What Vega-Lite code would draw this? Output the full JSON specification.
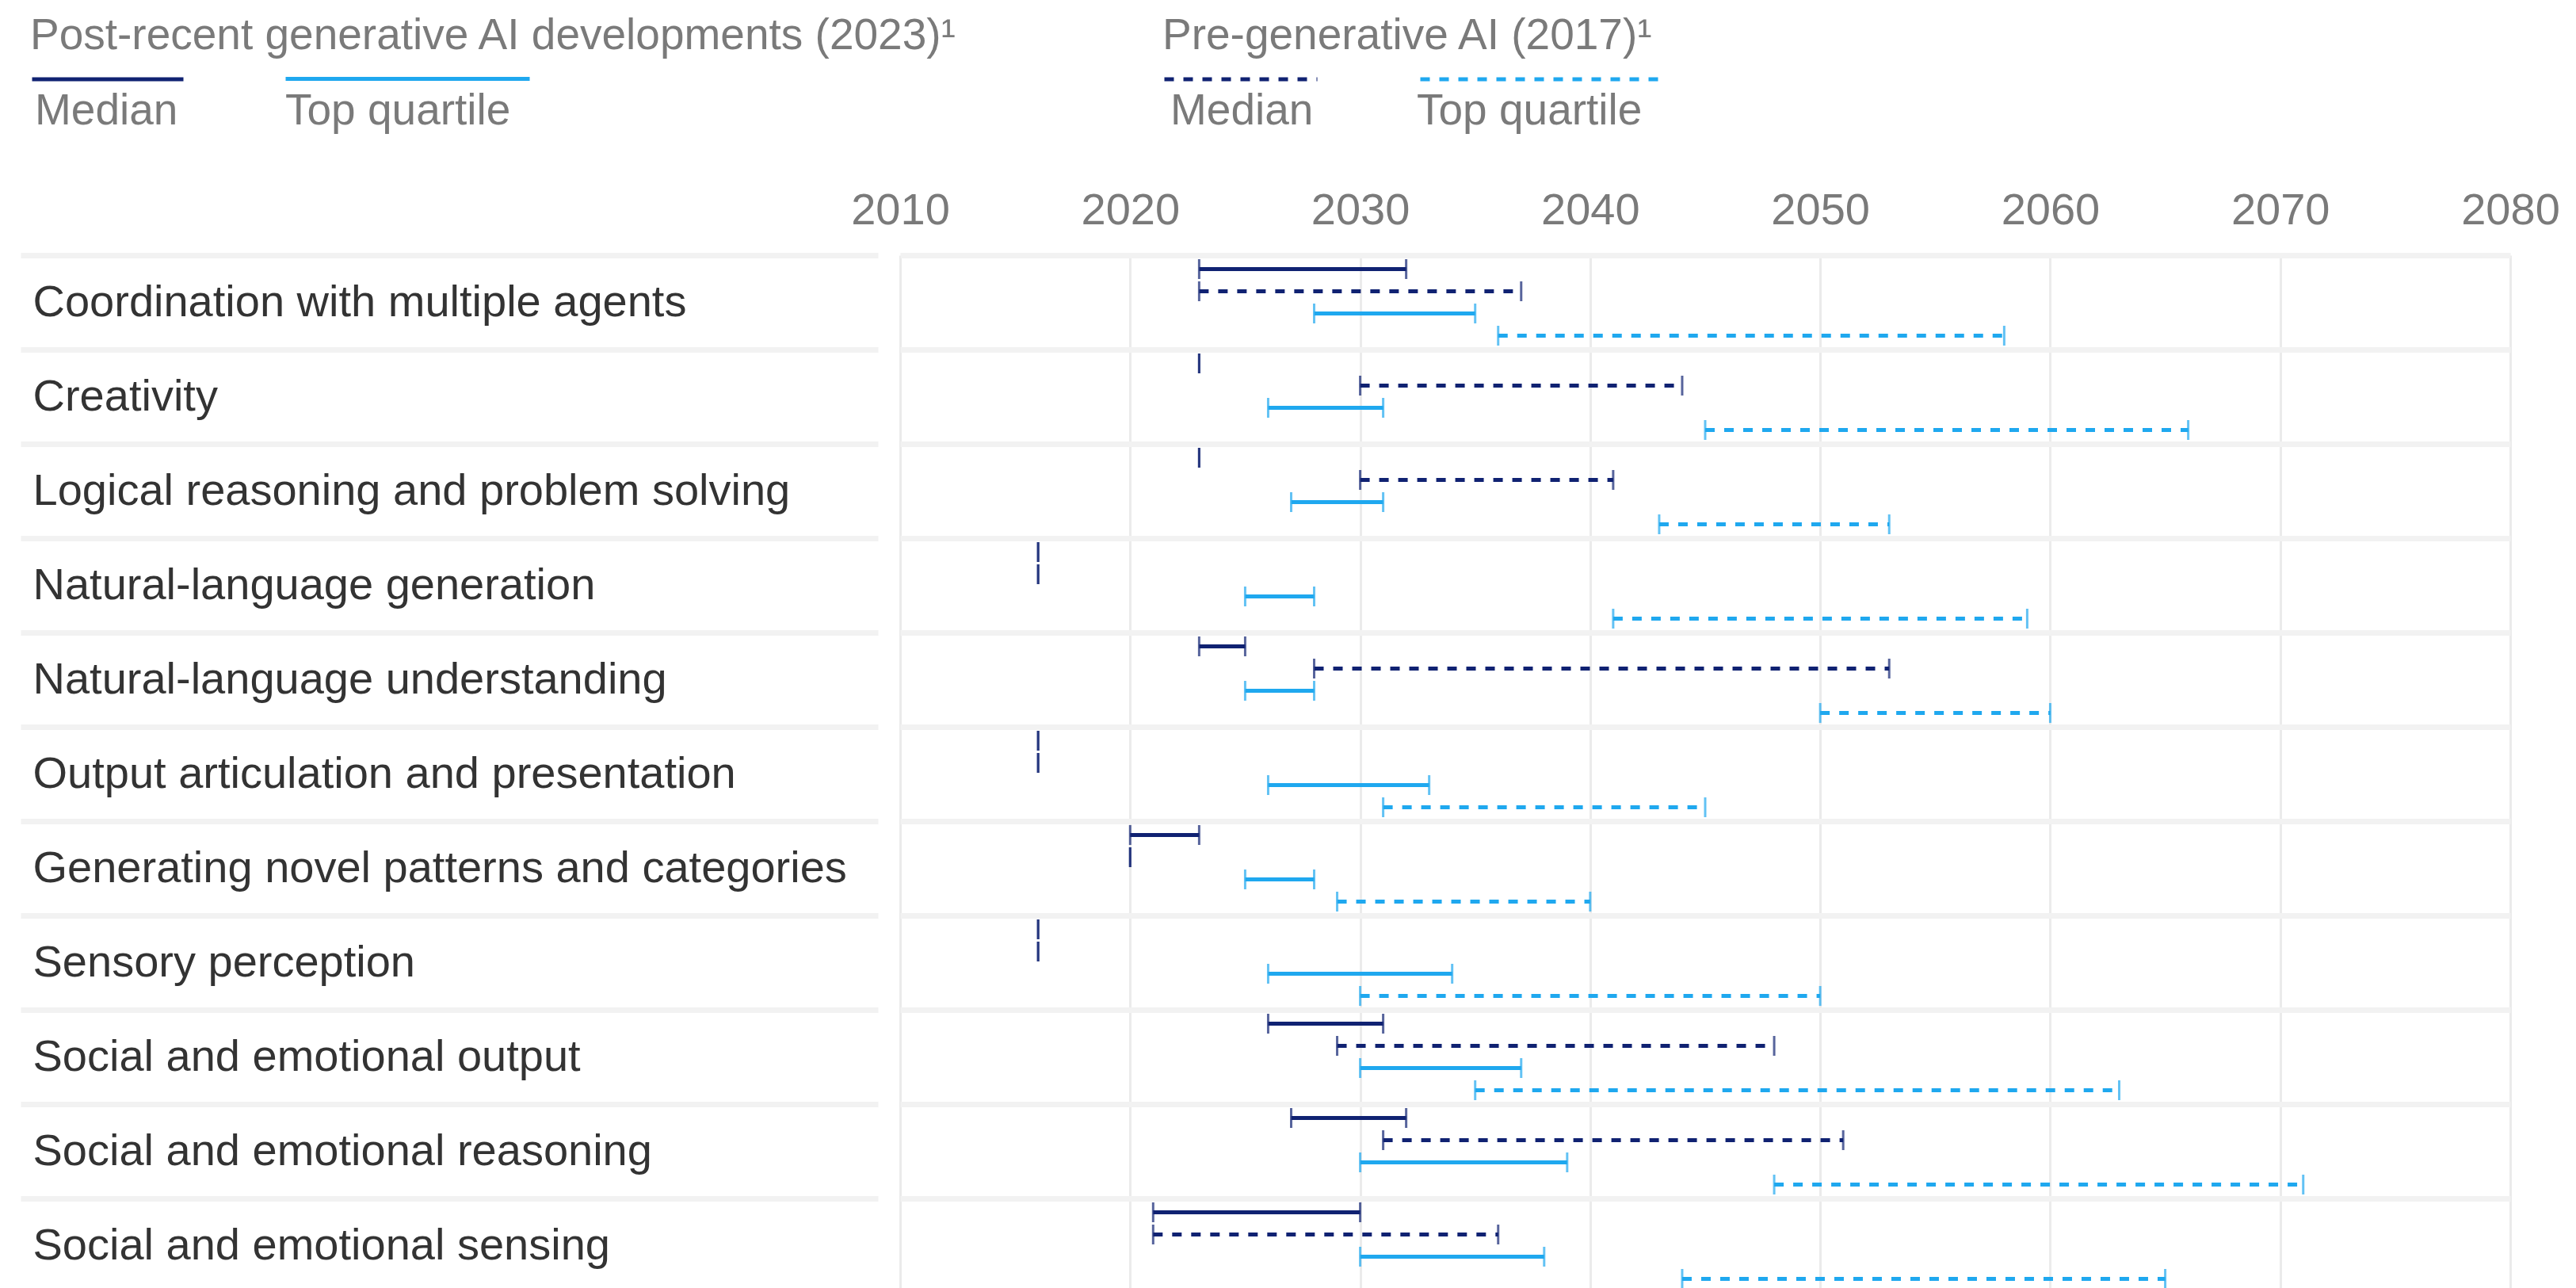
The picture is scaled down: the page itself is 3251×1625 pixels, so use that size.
{
  "$schema": "https://vega.github.io/schema/vega-lite/v6.json",
  "width": 2032,
  "height": 1328,
  "autosize": {"type": "none"},
  "padding": {"left": 1136, "top": 297, "right": 83, "bottom": 0},
  "background": "white",
  "config": {"view": {"stroke": null}, "font": "Liberation Sans"},
  "data": {"values": [
    {"skill": "Coordination with multiple agents", "series": "Median 2023", "stat": "Median", "start": 2023, "end": 2032},
    {"skill": "Coordination with multiple agents", "series": "Median 2017", "stat": "Median", "start": 2023, "end": 2037},
    {"skill": "Coordination with multiple agents", "series": "Top quartile 2023", "stat": "Top quartile", "start": 2028, "end": 2035},
    {"skill": "Coordination with multiple agents", "series": "Top quartile 2017", "stat": "Top quartile", "start": 2036, "end": 2058},
    {"skill": "Creativity", "series": "Median 2023", "stat": "Median", "start": 2023, "end": 2023},
    {"skill": "Creativity", "series": "Median 2017", "stat": "Median", "start": 2030, "end": 2044},
    {"skill": "Creativity", "series": "Top quartile 2023", "stat": "Top quartile", "start": 2026, "end": 2031},
    {"skill": "Creativity", "series": "Top quartile 2017", "stat": "Top quartile", "start": 2045, "end": 2066},
    {"skill": "Logical reasoning and problem solving", "series": "Median 2023", "stat": "Median", "start": 2023, "end": 2023},
    {"skill": "Logical reasoning and problem solving", "series": "Median 2017", "stat": "Median", "start": 2030, "end": 2041},
    {"skill": "Logical reasoning and problem solving", "series": "Top quartile 2023", "stat": "Top quartile", "start": 2027, "end": 2031},
    {"skill": "Logical reasoning and problem solving", "series": "Top quartile 2017", "stat": "Top quartile", "start": 2043, "end": 2053},
    {"skill": "Natural-language generation", "series": "Median 2023", "stat": "Median", "start": 2016, "end": 2016},
    {"skill": "Natural-language generation", "series": "Median 2017", "stat": "Median", "start": 2016, "end": 2016},
    {"skill": "Natural-language generation", "series": "Top quartile 2023", "stat": "Top quartile", "start": 2025, "end": 2028},
    {"skill": "Natural-language generation", "series": "Top quartile 2017", "stat": "Top quartile", "start": 2041, "end": 2059},
    {"skill": "Natural-language understanding", "series": "Median 2023", "stat": "Median", "start": 2023, "end": 2025},
    {"skill": "Natural-language understanding", "series": "Median 2017", "stat": "Median", "start": 2028, "end": 2053},
    {"skill": "Natural-language understanding", "series": "Top quartile 2023", "stat": "Top quartile", "start": 2025, "end": 2028},
    {"skill": "Natural-language understanding", "series": "Top quartile 2017", "stat": "Top quartile", "start": 2050, "end": 2060},
    {"skill": "Output articulation and presentation", "series": "Median 2023", "stat": "Median", "start": 2016, "end": 2016},
    {"skill": "Output articulation and presentation", "series": "Median 2017", "stat": "Median", "start": 2016, "end": 2016},
    {"skill": "Output articulation and presentation", "series": "Top quartile 2023", "stat": "Top quartile", "start": 2026, "end": 2033},
    {"skill": "Output articulation and presentation", "series": "Top quartile 2017", "stat": "Top quartile", "start": 2031, "end": 2045},
    {"skill": "Generating novel patterns and categories", "series": "Median 2023", "stat": "Median", "start": 2020, "end": 2023},
    {"skill": "Generating novel patterns and categories", "series": "Median 2017", "stat": "Median", "start": 2020, "end": 2020},
    {"skill": "Generating novel patterns and categories", "series": "Top quartile 2023", "stat": "Top quartile", "start": 2025, "end": 2028},
    {"skill": "Generating novel patterns and categories", "series": "Top quartile 2017", "stat": "Top quartile", "start": 2029, "end": 2040},
    {"skill": "Sensory perception", "series": "Median 2023", "stat": "Median", "start": 2016, "end": 2016},
    {"skill": "Sensory perception", "series": "Median 2017", "stat": "Median", "start": 2016, "end": 2016},
    {"skill": "Sensory perception", "series": "Top quartile 2023", "stat": "Top quartile", "start": 2026, "end": 2034},
    {"skill": "Sensory perception", "series": "Top quartile 2017", "stat": "Top quartile", "start": 2030, "end": 2050},
    {"skill": "Social and emotional output", "series": "Median 2023", "stat": "Median", "start": 2026, "end": 2031},
    {"skill": "Social and emotional output", "series": "Median 2017", "stat": "Median", "start": 2029, "end": 2048},
    {"skill": "Social and emotional output", "series": "Top quartile 2023", "stat": "Top quartile", "start": 2030, "end": 2037},
    {"skill": "Social and emotional output", "series": "Top quartile 2017", "stat": "Top quartile", "start": 2035, "end": 2063},
    {"skill": "Social and emotional reasoning", "series": "Median 2023", "stat": "Median", "start": 2027, "end": 2032},
    {"skill": "Social and emotional reasoning", "series": "Median 2017", "stat": "Median", "start": 2031, "end": 2051},
    {"skill": "Social and emotional reasoning", "series": "Top quartile 2023", "stat": "Top quartile", "start": 2030, "end": 2039},
    {"skill": "Social and emotional reasoning", "series": "Top quartile 2017", "stat": "Top quartile", "start": 2048, "end": 2071},
    {"skill": "Social and emotional sensing", "series": "Median 2023", "stat": "Median", "start": 2021, "end": 2030},
    {"skill": "Social and emotional sensing", "series": "Median 2017", "stat": "Median", "start": 2021, "end": 2036},
    {"skill": "Social and emotional sensing", "series": "Top quartile 2023", "stat": "Top quartile", "start": 2030, "end": 2038},
    {"skill": "Social and emotional sensing", "series": "Top quartile 2017", "stat": "Top quartile", "start": 2044, "end": 2065}
  ]},
  "encoding": {
    "y": {
      "field": "skill", "type": "nominal",
      "sort": ["Coordination with multiple agents", "Creativity", "Logical reasoning and problem solving", "Natural-language generation", "Natural-language understanding", "Output articulation and presentation", "Generating novel patterns and categories", "Sensory perception", "Social and emotional output", "Social and emotional reasoning", "Social and emotional sensing"],
      "scale": {"range": [25, 1334], "paddingInner": 0, "paddingOuter": 0},
      "axis": {
        "orient": "left", "title": null, "bandPosition": 0, "domain": false,
        "ticks": true, "tickSize": 1082, "tickWidth": 7, "tickColor": "#f2f2f2", "offset": 28,
        "grid": true, "gridColor": "#f2f2f2", "gridWidth": 7,
        "labelAlign": "left", "labelBaseline": "middle", "labelOffset": 0, "labelPadding": -15,
        "labelLimit": 1200, "labelFontSize": 56, "labelColor": "#333333", "labelFont": "Liberation Sans"
      }
    },
    "yOffset": {
      "field": "series", "type": "nominal",
      "sort": ["Median 2023", "Median 2017", "Top quartile 2023", "Top quartile 2017"],
      "scale": {"paddingInner": 0, "paddingOuter": 0.125}
    }
  },
  "layer": [
    {
      "transform": [{"filter": "datum.series === 'Median 2023'"}],
      "mark": {"type": "rule", "strokeWidth": 5, "strokeCap": "butt"},
      "encoding": {
        "x": {"field": "start", "type": "quantitative",
          "scale": {"domain": [2010, 2080], "nice": false, "zero": false},
          "axis": {"orient": "top", "title": null, "values": [2010, 2020, 2030, 2040, 2050, 2060, 2070, 2080], "format": "d",
            "labelFontSize": 56, "labelColor": "#7a7a7a", "labelFont": "Liberation Sans", "labelFlush": false,
            "domain": false, "ticks": false, "tickSize": 0, "labelPadding": 3,
            "grid": true, "gridColor": "#ebebeb", "gridWidth": 3}},
        "x2": {"field": "end"},
        "color": {"field": "stat", "type": "nominal",
          "scale": {"domain": ["Median"], "range": ["#102272"]},
          "legend": {"title": "Post-recent generative AI developments (2023)¹", "orient": "none", "legendX": -1098, "legendY": -278, "padding": 0,
            "titleFontSize": 55, "titleFont": "Liberation Sans", "titleFontWeight": "normal", "titleColor": "#7a7a7a", "titleLimit": 3000,
            "titlePadding": -72, "titleBaseline": "top", "titleAnchor": "start",
            "symbolType": "stroke", "symbolSize": 36481, "symbolStrokeWidth": 5,
            "labelFontSize": 55, "labelFont": "Liberation Sans", "labelColor": "#7a7a7a", "labelOffset": -190,
            "labelBaseline": "alphabetic", "labelExpr": "['', datum.label]", "labelLimit": 1000}}
      }
    },
    {
      "transform": [{"filter": "datum.series === 'Median 2017'"}],
      "mark": {"type": "rule", "strokeWidth": 5, "strokeCap": "butt", "strokeDash": [12, 12]},
      "encoding": {
        "x": {"field": "start", "type": "quantitative", "scale": {"domain": [2010, 2080], "nice": false, "zero": false}},
        "x2": {"field": "end"},
        "color": {"field": "stat", "type": "nominal",
          "scale": {"domain": ["Median"], "range": ["#102272"]},
          "legend": {"title": "Pre-generative AI (2017)¹", "orient": "none", "legendX": 331, "legendY": -278, "padding": 0,
            "titleFontSize": 55, "titleFont": "Liberation Sans", "titleFontWeight": "normal", "titleColor": "#7a7a7a", "titleLimit": 3000,
            "titlePadding": -73, "titleBaseline": "top", "titleAnchor": "start",
            "symbolType": "stroke", "symbolSize": 37249, "symbolStrokeWidth": 5, "symbolDash": [12, 12],
            "labelFontSize": 55, "labelFont": "Liberation Sans", "labelColor": "#7a7a7a", "labelOffset": -188,
            "labelBaseline": "alphabetic", "labelExpr": "['', datum.label]", "labelLimit": 1000}}
      }
    },
    {
      "transform": [{"filter": "datum.series === 'Top quartile 2023'"}],
      "mark": {"type": "rule", "strokeWidth": 5, "strokeCap": "butt"},
      "encoding": {
        "x": {"field": "start", "type": "quantitative", "scale": {"domain": [2010, 2080], "nice": false, "zero": false}},
        "x2": {"field": "end"},
        "color": {"field": "stat", "type": "nominal",
          "scale": {"domain": ["Top quartile"], "range": ["#1fa8ef"]},
          "legend": {"title": null, "orient": "none", "legendX": -778, "legendY": -354, "padding": 0,
            "symbolType": "stroke", "symbolSize": 94864, "symbolStrokeWidth": 5,
            "labelFontSize": 55, "labelFont": "Liberation Sans", "labelColor": "#7a7a7a", "labelOffset": -311,
            "labelBaseline": "alphabetic", "labelExpr": "['', datum.label]", "labelLimit": 1000}}
      }
    },
    {
      "transform": [{"filter": "datum.series === 'Top quartile 2017'"}],
      "mark": {"type": "rule", "strokeWidth": 5, "strokeCap": "butt", "strokeDash": [12, 12]},
      "encoding": {
        "x": {"field": "start", "type": "quantitative", "scale": {"domain": [2010, 2080], "nice": false, "zero": false}},
        "x2": {"field": "end"},
        "color": {"field": "stat", "type": "nominal",
          "scale": {"domain": ["Top quartile"], "range": ["#1fa8ef"]},
          "legend": {"title": null, "orient": "none", "legendX": 654, "legendY": -353, "padding": 0,
            "symbolType": "stroke", "symbolSize": 94249, "symbolStrokeWidth": 5, "symbolDash": [12, 12],
            "labelFontSize": 55, "labelFont": "Liberation Sans", "labelColor": "#7a7a7a", "labelOffset": -314,
            "labelBaseline": "alphabetic", "labelExpr": "['', datum.label]", "labelLimit": 1000}}
      }
    },
    {
      "mark": {"type": "tick", "orient": "vertical", "size": 25, "thickness": 3},
      "encoding": {
        "x": {"field": "start", "type": "quantitative", "scale": {"domain": [2010, 2080], "nice": false, "zero": false}},
        "color": {"field": "stat", "type": "nominal",
          "scale": {"domain": ["Median", "Top quartile"], "range": ["#102272", "#1fa8ef"]}, "legend": null}
      }
    },
    {
      "mark": {"type": "tick", "orient": "vertical", "size": 25, "thickness": 3},
      "encoding": {
        "x": {"field": "end", "type": "quantitative", "scale": {"domain": [2010, 2080], "nice": false, "zero": false}},
        "color": {"field": "stat", "type": "nominal",
          "scale": {"domain": ["Median", "Top quartile"], "range": ["#102272", "#1fa8ef"]}, "legend": null}
      }
    }
  ],
  "resolve": {"scale": {"color": "independent"}, "legend": {"color": "independent"}}
}
